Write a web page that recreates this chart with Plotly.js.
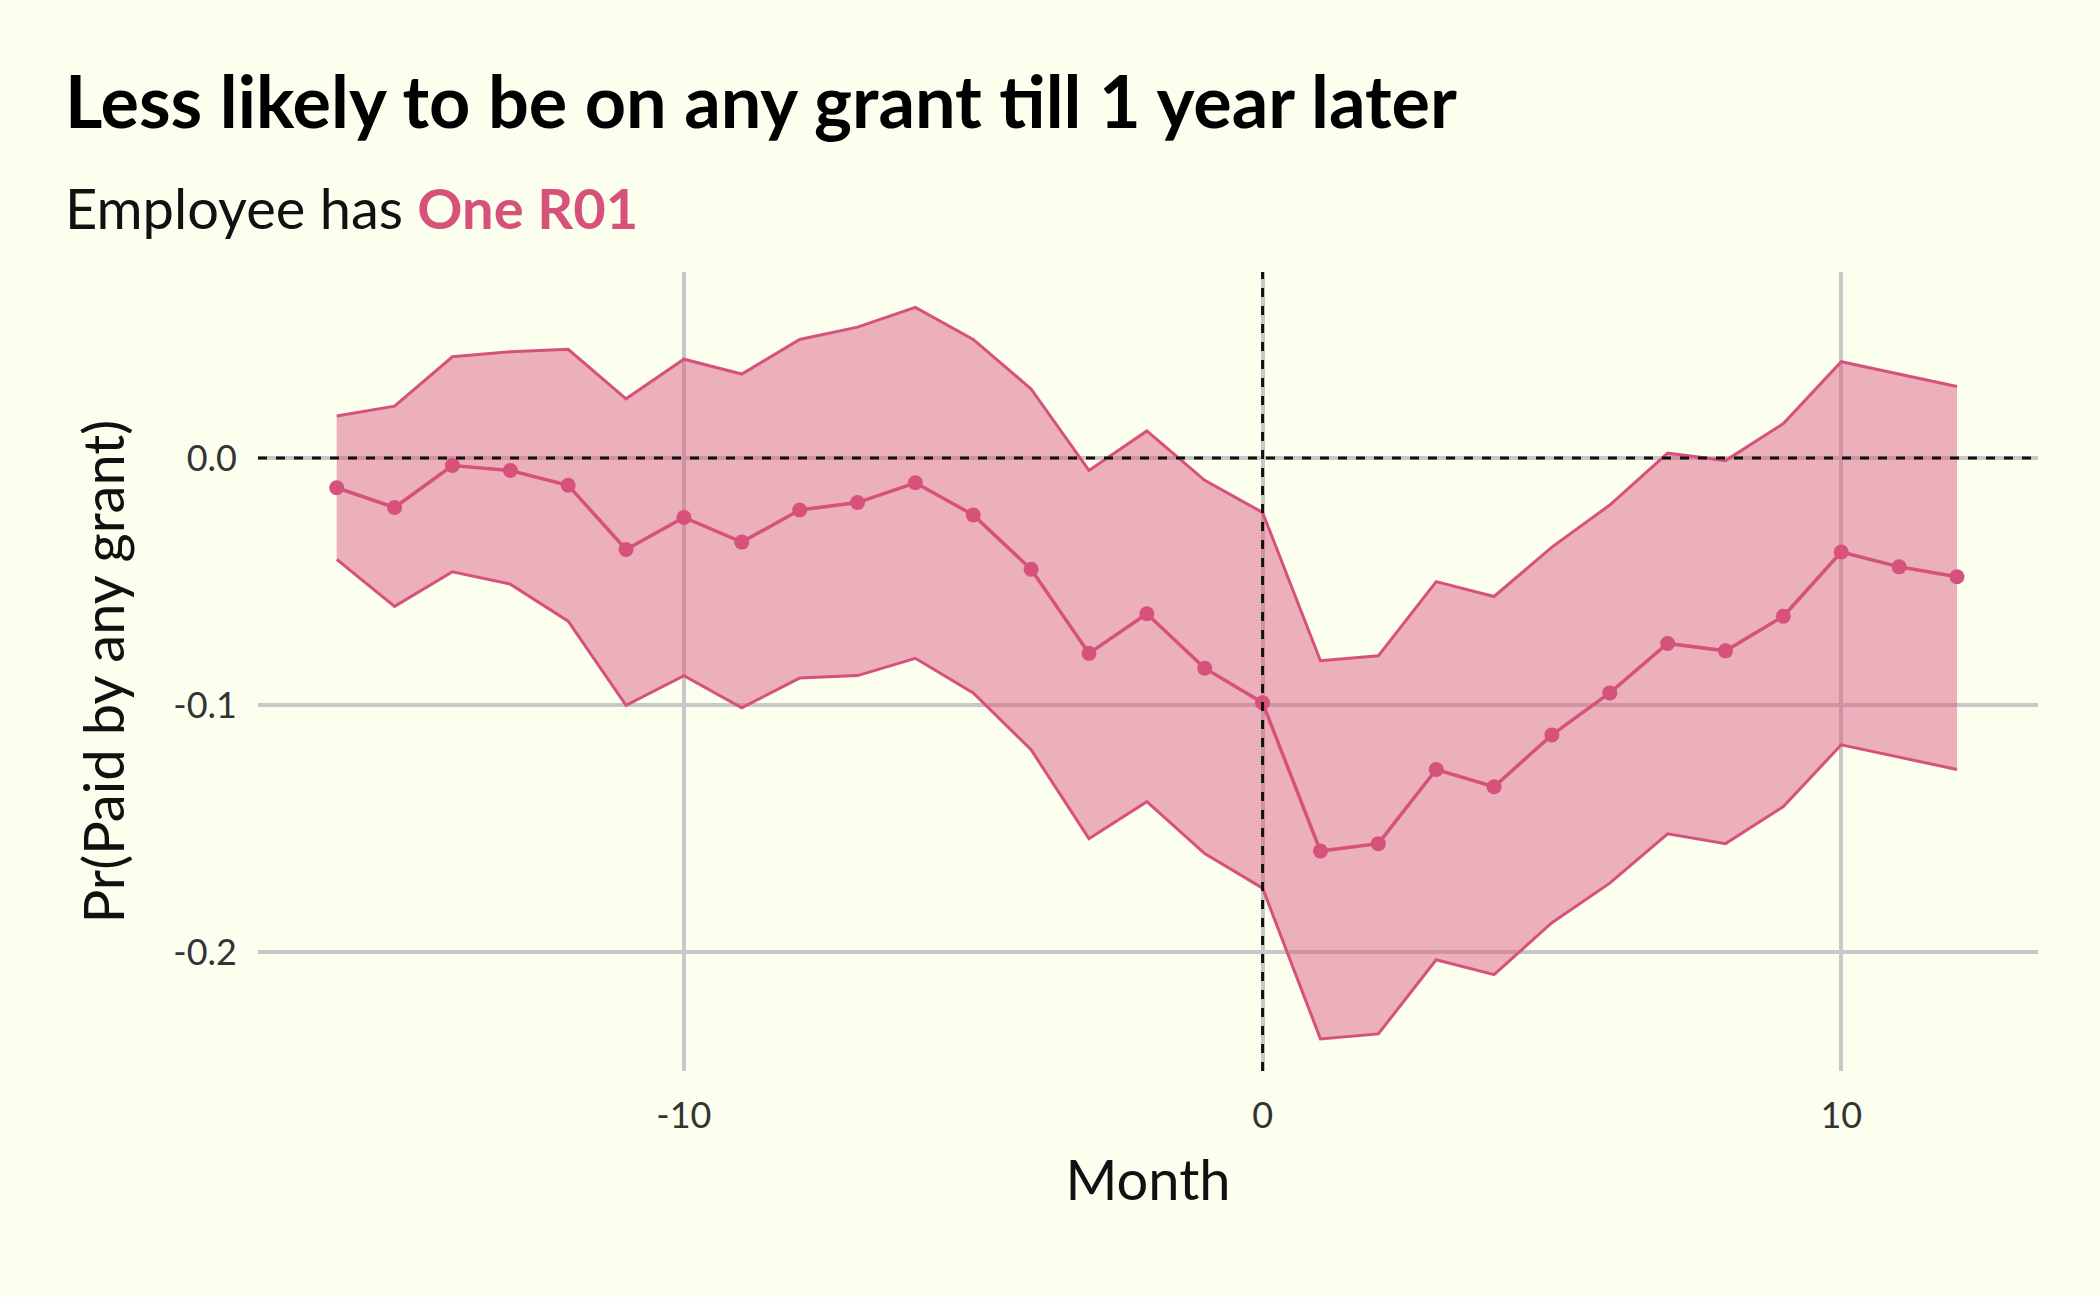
<!DOCTYPE html>
<html>
<head>
<meta charset="utf-8">
<script src="https://cdn.plot.ly/plotly-3.0.1.min.js"></script>
<style>html,body{margin:0;padding:0;background:#fcfeee;}</style>
</head>
<body>
<div id="chart" style="width:2100px;height:1297px;"></div>
<script>
const months = [-16,-15,-14,-13,-12,-11,-10,-9,-8,-7,-6,-5,-4,-3,-2,-1,0,1,2,3,4,5,6,7,8,9,10,11,12];
const estimate = [-0.012,-0.020,-0.003,-0.005,-0.011,-0.037,-0.024,-0.034,-0.021,-0.018,-0.010,-0.023,-0.045,-0.079,-0.063,-0.085,-0.099,-0.159,-0.156,-0.126,-0.133,-0.112,-0.095,-0.075,-0.078,-0.064,-0.038,-0.044,-0.048];
const upper = [0.017,0.021,0.041,0.043,0.044,0.024,0.040,0.034,0.048,0.053,0.061,0.048,0.028,-0.005,0.011,-0.009,-0.022,-0.082,-0.080,-0.050,-0.056,-0.036,-0.019,0.002,-0.001,0.014,0.039,0.034,0.029];
const lower = [-0.041,-0.060,-0.046,-0.051,-0.066,-0.100,-0.088,-0.101,-0.089,-0.088,-0.081,-0.095,-0.118,-0.154,-0.139,-0.160,-0.174,-0.235,-0.233,-0.203,-0.209,-0.188,-0.172,-0.152,-0.156,-0.141,-0.116,-0.121,-0.126];

const pink = "#d6527a";
const font = "Lato, 'Open Sans', sans-serif";

var data = [
  { x: months, y: lower, mode: "lines", line: { color: pink, width: 3 }, hoverinfo: "skip", showlegend: false },
  { x: months, y: upper, mode: "lines", fill: "tonexty", fillcolor: "rgba(214,82,122,0.45)", line: { color: pink, width: 3 }, showlegend: false },
  { x: months, y: estimate, mode: "lines+markers", line: { color: pink, width: 3.5 }, marker: { color: pink, size: 15 }, showlegend: false },
];

var layout = {
  paper_bgcolor: "#fcfeee",
  plot_bgcolor: "#fcfeee",
  margin: { t: 272, b: 226, l: 258, r: 62 },
  font: { family: font, color: "#222" },
  xaxis: {
    range: [-17.36, 13.4], tickvals: [-10, 0, 10], ticktext: ["-10", "0", "10"],
    showgrid: true, gridcolor: "#c8c8c8", gridwidth: 4, zeroline: false,
    tickfont: { size: 36, color: "#333" }, ticks: "", ticklabelstandoff: 20,
    title: { text: "Month", font: { size: 56, color: "#111" }, standoff: 25 },
  },
  yaxis: {
    range: [-0.248, 0.0753], tickvals: [0, -0.1, -0.2], ticktext: ["0.0", "-0.1", "-0.2"],
    showgrid: true, gridcolor: "#c8c8c8", gridwidth: 4, zeroline: false,
    tickfont: { size: 36, color: "#333" }, ticks: "", ticklabelstandoff: 20,
    title: { text: "Pr(Paid by any grant)", font: { size: 56, color: "#111" }, standoff: 30 },
  },
  shapes: [
    { type: "line", xref: "paper", x0: 0, x1: 1, yref: "y", y0: 0, y1: 0, line: { color: "#111", width: 3, dash: "dash" } },
    { type: "line", yref: "paper", y0: 0, y1: 1, xref: "x", x0: 0, x1: 0, line: { color: "#111", width: 3, dash: "dash" } },
  ],
  annotations: [
    { xref: "paper", yref: "paper", x: -0.1096, y: 1.215, xanchor: "left", yanchor: "middle", showarrow: false,
      text: "<b>Less likely to be on any grant till 1 year later</b>", font: { size: 72, color: "#000", family: font } },
    { xref: "paper", yref: "paper", x: -0.1096, y: 1.081, xanchor: "left", yanchor: "middle", showarrow: false,
      text: "Employee has <b><span style='color:" + pink + "'>One R01</span></b>", font: { size: 56, color: "#111", family: font } },
  ],
};

Plotly.newPlot("chart", data, layout, { displayModeBar: false, staticPlot: true });
</script>
</body>
</html>
